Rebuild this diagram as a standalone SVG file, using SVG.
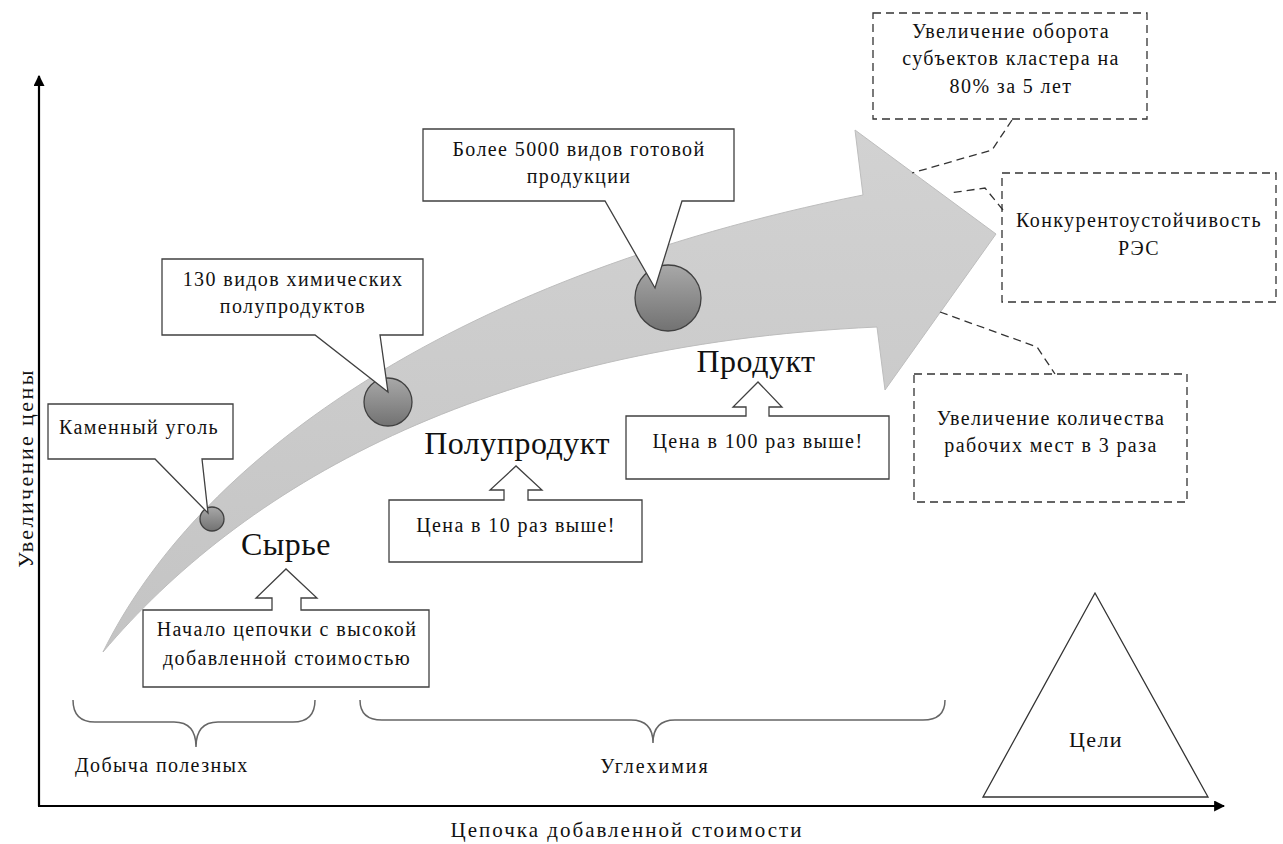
<svg xmlns="http://www.w3.org/2000/svg" width="1283" height="844" viewBox="0 0 1283 844">
  <defs>
    <linearGradient id="bandFill" x1="0" y1="0" x2="0" y2="1">
      <stop offset="0" stop-color="#d2d2d2"/>
      <stop offset="1" stop-color="#c4c4c4"/>
    </linearGradient>
    <linearGradient id="dotFill" x1="0" y1="0" x2="0" y2="1">
      <stop offset="0" stop-color="#a8a8a8"/>
      <stop offset="1" stop-color="#727272"/>
    </linearGradient>
    <marker id="axisHead" viewBox="0 0 10 10" refX="9" refY="5" markerWidth="5" markerHeight="5" orient="auto">
      <path d="M0,0 L10,5 L0,10 Z" fill="#000"/>
    </marker>
    <style>
      text { font-family: "Liberation Serif", "Times New Roman", serif; fill: #111; letter-spacing: 1.4px; }
      .t { font-size: 20px; text-anchor: middle; }
      .big { font-size: 32px; text-anchor: middle; letter-spacing: 0.5px; }
      .box { fill: #fff; stroke: #404040; stroke-width: 1.3; }
      .dash { fill: #fff; stroke: #333; stroke-width: 1.3; stroke-dasharray: 8 5; }
      .lead { fill: none; stroke: #333; stroke-width: 1.3; stroke-dasharray: 8 5; }
      .brace { fill: none; stroke: #666; stroke-width: 1.5; }
      .dot { fill: url(#dotFill); stroke: #404040; stroke-width: 1.3; }
      .axis { stroke: #000; stroke-width: 2.2; fill: none; }
      .axlabel { font-size: 21px; text-anchor: middle; letter-spacing: 2px; }
    </style>
  </defs>

  <!-- axes -->
  <g id="axes">
    <line class="axis" x1="39" y1="806" x2="39" y2="76" marker-end="url(#axisHead)"/>
    <line class="axis" x1="38" y1="806" x2="1224" y2="806" marker-end="url(#axisHead)"/>
    <text class="axlabel" x="627" y="837">Цепочка добавленной стоимости</text>
    <text class="axlabel" transform="translate(33,468) rotate(-90)" style="font-size:22px;letter-spacing:2.4px">Увеличение цены</text>
  </g>

  <!-- curved value arrow -->
  <g id="value-arrow">
    <path d="M103,652 C195,465 440,280 863,195 L855,130 L996,234 L885,390 L877,327 C480,345 240,490 103,652 Z" fill="url(#bandFill)" stroke="#bdbdbd" stroke-width="1"/>
  </g>

  <!-- milestones on the arrow -->
  <g id="milestones">
    <circle class="dot" cx="212" cy="519" r="12"/>
    <circle class="dot" cx="388" cy="402" r="24"/>
    <circle class="dot" cx="668" cy="298" r="33"/>
  </g>

  <!-- callouts -->
  <g id="callout-coal">
    <path class="box" d="M48,404 H233 V459 H202 L208,513 L155,459 H48 Z"/>
    <text class="t" x="139" y="434">Каменный уголь</text>
  </g>
  <g id="callout-semi">
    <path class="box" d="M162,259 H423 V335 H380 L388,392 L315,335 H162 Z"/>
    <text class="t" x="293" y="286">130 видов химических</text>
    <text class="t" x="293" y="313">полупродуктов</text>
  </g>
  <g id="callout-products">
    <path class="box" d="M423,129 H734 V201 H682 L655,288 L605,201 H423 Z"/>
    <text class="t" x="579" y="156">Более 5000 видов готовой</text>
    <text class="t" x="579" y="183">продукции</text>
  </g>

  <!-- stage labels with up-arrow callouts -->
  <g id="stage-raw">
    <text class="big" x="286" y="555">Сырье</text>
    <path class="box" d="M143,610 H272 V598 H256 L286,569 L317,598 H301 V610 H429 V687 H143 Z"/>
    <text class="t" x="287" y="636">Начало цепочки с высокой</text>
    <text class="t" x="287" y="665">добавленной стоимостью</text>
  </g>
  <g id="stage-semi">
    <text class="big" x="517" y="454">Полупродукт</text>
    <path class="box" d="M389,500 H504 V490 H490 L516,466 L542,490 H528 V500 H642 V562 H389 Z"/>
    <text class="t" x="516" y="532">Цена в 10 раз выше!</text>
  </g>
  <g id="stage-product">
    <text class="big" x="756" y="372">Продукт</text>
    <path class="box" d="M626,416 H746 V407 H733 L758,382 L782,407 H769 V416 H889 V479 H626 Z"/>
    <text class="t" x="758" y="448">Цена в 100 раз выше!</text>
  </g>

  <!-- goals -->
  <g id="goal-turnover">
    <rect class="dash" x="873" y="13" width="274" height="106"/>
    <text class="t" x="1011" y="38">Увеличение оборота</text>
    <text class="t" x="1011" y="65">субъектов кластера на</text>
    <text class="t" x="1011" y="93">80% за 5 лет</text>
  </g>
  <g id="goal-competitive">
    <rect class="dash" x="1002" y="173" width="274" height="129"/>
    <text class="t" x="1139" y="227">Конкурентоустойчивость</text>
    <text class="t" x="1139" y="255">РЭС</text>
  </g>
  <g id="goal-jobs">
    <rect class="dash" x="914" y="374" width="273" height="128"/>
    <text class="t" x="1051" y="425">Увеличение количества</text>
    <text class="t" x="1051" y="452">рабочих мест в 3 раза</text>
  </g>
  <g id="goals-triangle">
    <path d="M1095,593 L1208,797 H983 Z" fill="#fff" stroke="#333" stroke-width="1.3"/>
    <text x="1096" y="747" style="font-size:22px;text-anchor:middle">Цели</text>
  </g>

  <!-- dashed leader lines from the arrow head to goals -->
  <g id="connectors">
    <polyline class="lead" points="1012,120 992,150 912,173"/>
    <polyline class="lead" points="1003,210 985,188 950,193"/>
    <polyline class="lead" points="940,312 1037,347 1055,374"/>
  </g>

  <!-- stage braces -->
  <g id="brace-mining">
    <path class="brace" d="M73,700 Q73,722 95,722 H174 Q196,722 196,747 Q196,722 218,722 H293 Q315,722 315,700"/>
    <text x="75" y="772" style="font-size:20px">Добыча полезных</text>
  </g>
  <g id="brace-coalchem">
    <path class="brace" d="M360,700 Q360,720 382,720 H631 Q653,720 653,743 Q653,720 675,720 H923 Q945,720 945,700"/>
    <text class="t" x="655" y="773" style="letter-spacing:2px">Углехимия</text>
  </g>
</svg>
